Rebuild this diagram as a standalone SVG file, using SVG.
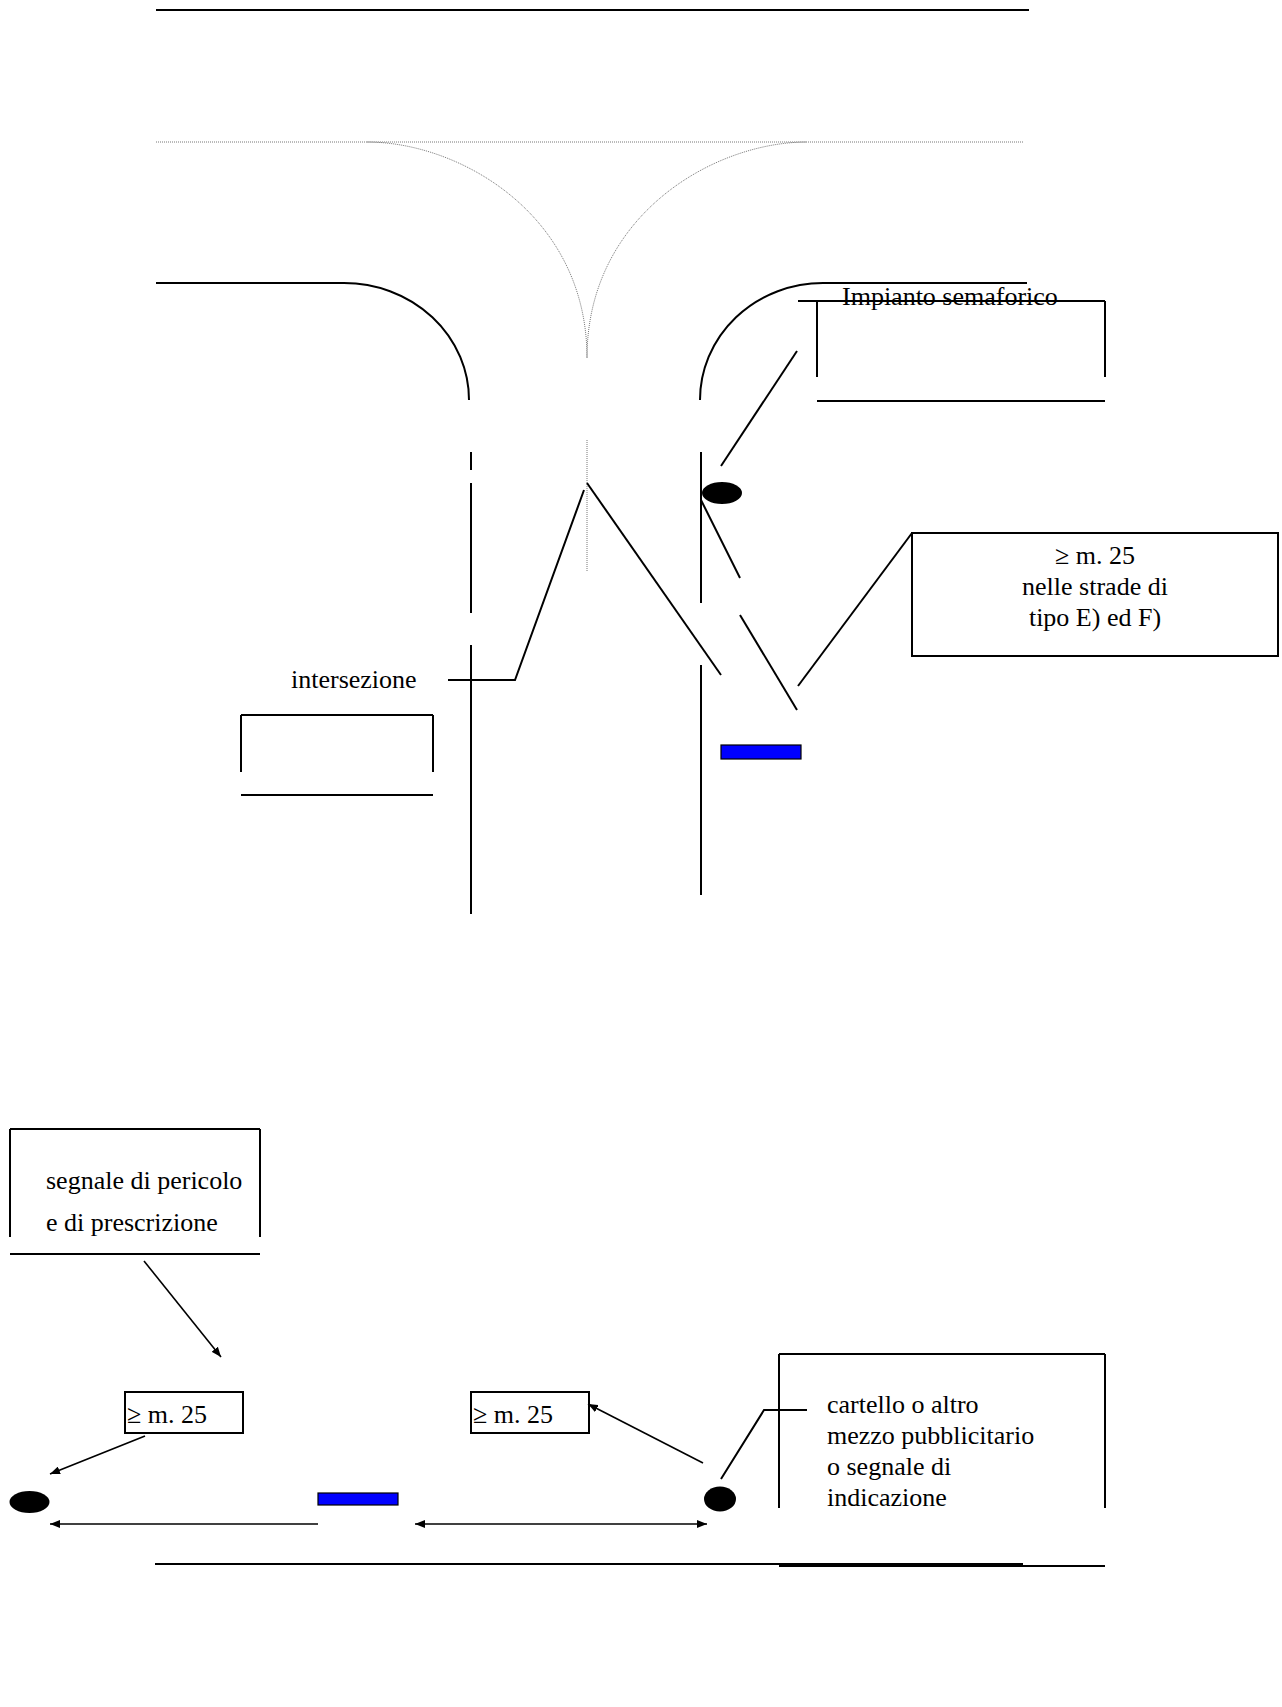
<svg xmlns="http://www.w3.org/2000/svg" width="1282" height="1707" viewBox="0 0 1282 1707">
<style>
.ln{stroke:#000;stroke-width:2;fill:none}
.th{stroke:#000;stroke-width:1.6;fill:none}
.dt{stroke:#777;stroke-width:1;fill:none;stroke-dasharray:1 1}
.tx{font-family:"Liberation Serif","Times New Roman",serif;font-size:26px;fill:#000}
.blue{fill:#0000ff;stroke:#000;stroke-width:1.2}
.dot{fill:#000}
</style>
<defs>
<marker id="ah" viewBox="0 0 10 8" refX="10" refY="4" markerWidth="10" markerHeight="8" orient="auto-start-reverse" markerUnits="userSpaceOnUse"><path d="M0,0 L10,4 L0,8 z" fill="#000"/></marker>
</defs>
<rect width="1282" height="1707" fill="#fff"/>

<g id="road-top">
<line class="ln" x1="156" y1="10" x2="1029" y2="10"/>
<line class="dt" x1="156" y1="142" x2="1024" y2="142"/>
<path class="dt" d="M367,142 C460,142 587,215 587,358"/>
<path class="dt" d="M587,358 C587,215 714,142 807,142"/>
<line class="dt" x1="587" y1="440" x2="587" y2="572"/>
<path class="ln" d="M156,283 H344 A125,117 0 0 1 469,400"/>
<path class="ln" d="M1027,283 H823 A123,117 0 0 0 700,400"/>
<line class="ln" x1="471" y1="452" x2="471" y2="470"/>
<line class="ln" x1="471" y1="483" x2="471" y2="613"/>
<line class="ln" x1="471" y1="645" x2="471" y2="914"/>
<line class="ln" x1="701" y1="452" x2="701" y2="603"/>
<line class="ln" x1="701" y1="665" x2="701" y2="895"/>
</g>

<g id="impianto-semaforico">
<line class="ln" x1="798" y1="301" x2="1105" y2="301"/>
<line class="ln" x1="817" y1="301" x2="817" y2="377"/>
<line class="ln" x1="1105" y1="301" x2="1105" y2="377"/>
<line class="ln" x1="817" y1="401" x2="1105" y2="401"/>
<text class="tx" x="842" y="305">Impianto semaforico</text>
</g>

<g id="semaforo">
<ellipse class="dot" cx="722" cy="493" rx="20" ry="11"/>
</g>

<g id="box-m25-top">
<rect class="ln" x="912" y="533" width="366" height="123"/>
<text class="tx" x="1095" y="564" text-anchor="middle">≥ m. 25</text>
<text class="tx" x="1095" y="595" text-anchor="middle">nelle strade di</text>
<text class="tx" x="1095" y="626" text-anchor="middle">tipo E) ed F)</text>
</g>

<g id="intersezione">
<text class="tx" x="291" y="688">intersezione</text>
<line class="ln" x1="241" y1="715" x2="433" y2="715"/>
<line class="ln" x1="241" y1="715" x2="241" y2="772"/>
<line class="ln" x1="433" y1="715" x2="433" y2="772"/>
<line class="ln" x1="241" y1="795" x2="433" y2="795"/>
</g>

<g id="segnale-top">
<rect class="blue" x="721" y="745" width="80" height="14"/>
</g>

<g id="segnale-pericolo">
<line class="ln" x1="10" y1="1129" x2="260" y2="1129"/>
<line class="ln" x1="10" y1="1129" x2="10" y2="1237"/>
<line class="ln" x1="260" y1="1129" x2="260" y2="1237"/>
<line class="ln" x1="10" y1="1254" x2="260" y2="1254"/>
<text class="tx" x="46" y="1189">segnale di pericolo</text>
<text class="tx" x="46" y="1231">e di prescrizione</text>
</g>

<g id="m25-a">
<rect class="ln" x="125" y="1392" width="118" height="41"/>
<text class="tx" x="127" y="1423">≥ m. 25</text>
</g>

<g id="m25-b">
<rect class="ln" x="471" y="1392" width="118" height="41"/>
<text class="tx" x="473" y="1423">≥ m. 25</text>
</g>

<g id="dot-left">
<ellipse class="dot" cx="29.5" cy="1502" rx="20" ry="11"/>
</g>

<g id="segnale-bottom">
<rect class="blue" x="318" y="1493" width="80" height="12"/>
</g>

<g id="dot-right">
<ellipse class="dot" cx="720" cy="1499" rx="16" ry="12.5"/>
</g>

<g id="cartello">
<line class="ln" x1="779" y1="1354" x2="1105" y2="1354"/>
<line class="ln" x1="779" y1="1354" x2="779" y2="1508"/>
<line class="ln" x1="1105" y1="1354" x2="1105" y2="1508"/>
<line class="ln" x1="779" y1="1566" x2="1105" y2="1566"/>
<text class="tx" x="827" y="1413">cartello o altro</text>
<text class="tx" x="827" y="1444">mezzo pubblicitario</text>
<text class="tx" x="827" y="1475">o segnale di</text>
<text class="tx" x="827" y="1506">indicazione</text>
</g>

<g id="road-bottom">
<line class="ln" x1="155" y1="1564" x2="1023" y2="1564"/>
</g>

<g id="connectors">
<line class="ln" x1="797" y1="351" x2="721" y2="466"/>
<polyline class="ln" points="448,680 515,680 584,490"/>
<line class="ln" x1="587" y1="483" x2="721" y2="675"/>
<line class="ln" x1="701" y1="500" x2="740" y2="578"/>
<line class="ln" x1="740" y1="615" x2="797" y2="710"/>
<line class="ln" x1="798" y1="686" x2="912" y2="533"/>
<line class="th" x1="144" y1="1261" x2="221" y2="1357" marker-end="url(#ah)"/>
<line class="th" x1="145" y1="1436" x2="50" y2="1474" marker-end="url(#ah)"/>
<line class="th" x1="318" y1="1524" x2="50" y2="1524" marker-end="url(#ah)"/>
<line class="th" x1="415" y1="1524" x2="707" y2="1524" marker-start="url(#ah)" marker-end="url(#ah)"/>
<line class="th" x1="703" y1="1463" x2="588" y2="1404" marker-end="url(#ah)"/>
<polyline class="ln" points="721,1479 764,1410 807,1410"/>
</g>
</svg>
